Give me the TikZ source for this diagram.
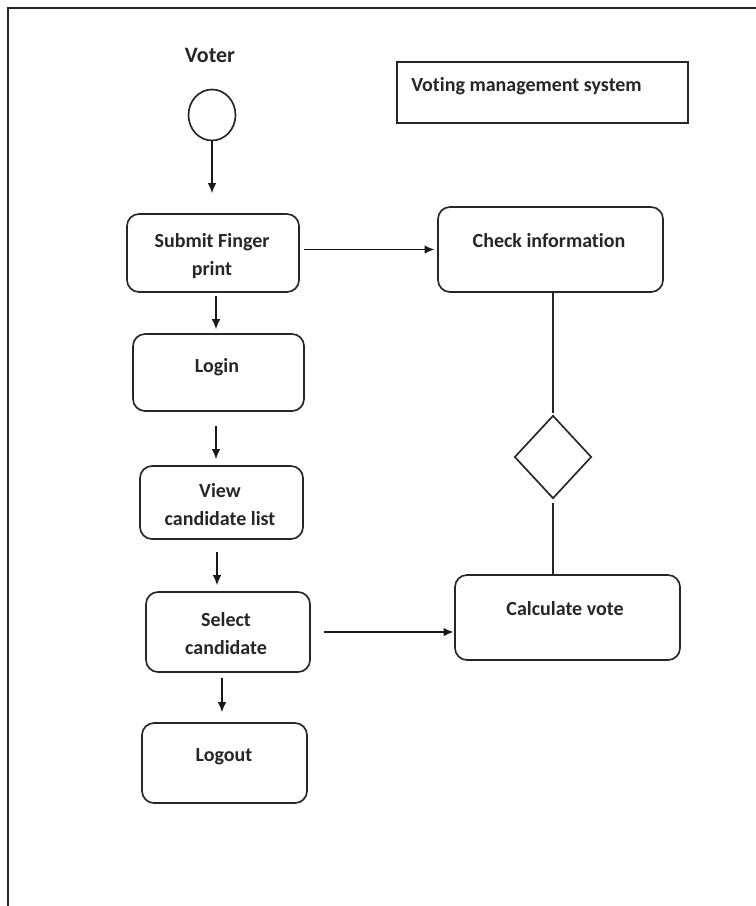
\documentclass[tikz,border=0pt]{standalone}
\usepackage{fontspec}
\setmainfont{Carlito}[Ligatures=CommonOff]
\usetikzlibrary{shapes.geometric,arrows.meta,calc}
\begin{document}
\begin{tikzpicture}[x=0.75pt,y=-0.75pt,
  txt/.style={inner sep=0pt, align=center, text=black!85,
              font=\bfseries\fontsize{15}{21}\selectfont},
  box/.style={draw=black!85, rounded corners=9pt, line width=1.25pt, inner sep=0pt},
  frame/.style={draw=black!85, line width=1.25pt, inner sep=0pt},
  arr/.style={draw=black!90, line width=1.2pt, -{Latex[length=7.5pt,width=6.5pt]}},
  link/.style={draw=black!85, line width=1.2pt}]
\useasboundingbox (0,0) rectangle (756,906);

% page frame (top and left edges)
\draw[line width=1.6pt, black!85] (8,906) -- (8,8) -- (756,8);

% actor and title
\node[txt, anchor=base, font=\bfseries\fontsize{16.5}{21}\selectfont] (voter) at (210,63) {Voter};
\node[frame, ellipse, minimum width=35.25pt, minimum height=38.25pt] (start) at (212,115) {};
\node[frame, rectangle, minimum width=218.25pt, minimum height=45.75pt] (title) at (542.5,92.5) {};
\node[txt, anchor=base west] (titletext) at (411,92) {Voting management system};

% activity boxes
\node[box, minimum width=129pt,    minimum height=58.5pt]  (submit) at (213,253) {};
\node[box, minimum width=168.75pt, minimum height=63.75pt] (check)  at (550.5,249.5) {};
\node[box, minimum width=128.25pt, minimum height=57.75pt] (login)  at (218.5,372.5) {};
\node[box, minimum width=122.25pt, minimum height=54.75pt] (view)   at (221.5,502.5) {};
\node[box, minimum width=123pt,    minimum height=60pt]    (select) at (228,632) {};
\node[box, minimum width=168.75pt, minimum height=63.75pt] (calc)   at (567.5,617.5) {};
\node[box, minimum width=123.75pt, minimum height=60pt]    (logout) at (224.5,763) {};
\node[frame, diamond, minimum width=57.75pt, minimum height=62.25pt] (decide) at (553,457) {};

% box labels, placed by the baseline of their last line
\node[txt, anchor=base] (submittext) at (212,275) {Submit Finger\\print};
\node[txt, anchor=base] (checktext)  at (549,247) {Check information};
\node[txt, anchor=base] (logintext)  at (217,372) {Login};
\node[txt, anchor=base] (viewtext)   at (220,525) {View\\candidate list};
\node[txt, anchor=base] (selecttext) at (226,654) {Select\\candidate};
\node[txt, anchor=base] (calctext)   at (565,615) {Calculate vote};
\node[txt, anchor=base] (logouttext) at (224,761) {Logout};

% control flow
\draw[arr, shorten >=15pt] (start.south) -- (start.south |- submit.north);
\draw[arr, shorten <=3pt, shorten >=2pt] (submit.east |- check.west) -- (check.west);
\draw[arr, shorten <=2.25pt, shorten >=3pt] ($(submit.south)+(3,0)$) -- ($(login.north)+(-2.5,0)$);
\draw[arr, shorten <=10.5pt, shorten >=4.5pt] ($(login.south)+(-2.5,0)$) -- ($(view.north)+(-5.5,0)$);
\draw[arr, shorten <=9pt, shorten >=4.5pt] ($(view.south)+(-4.5,0)$) -- ($(select.north)+(-11,0)$);
\draw[arr, shorten <=9.75pt, shorten >=0.5pt] (select.east) -- (select.east -| calc.west);
\draw[arr, shorten <=3.75pt, shorten >=7.5pt] ($(select.south)+(-6,0)$) -- ($(logout.north)+(-2.5,0)$);
\draw[link, shorten >=1.5pt] (check.south -| decide.north) -- (decide.north);
\draw[link, shorten <=3pt] (decide.south) -- (decide.south |- calc.north);
\end{tikzpicture}
\end{document}
